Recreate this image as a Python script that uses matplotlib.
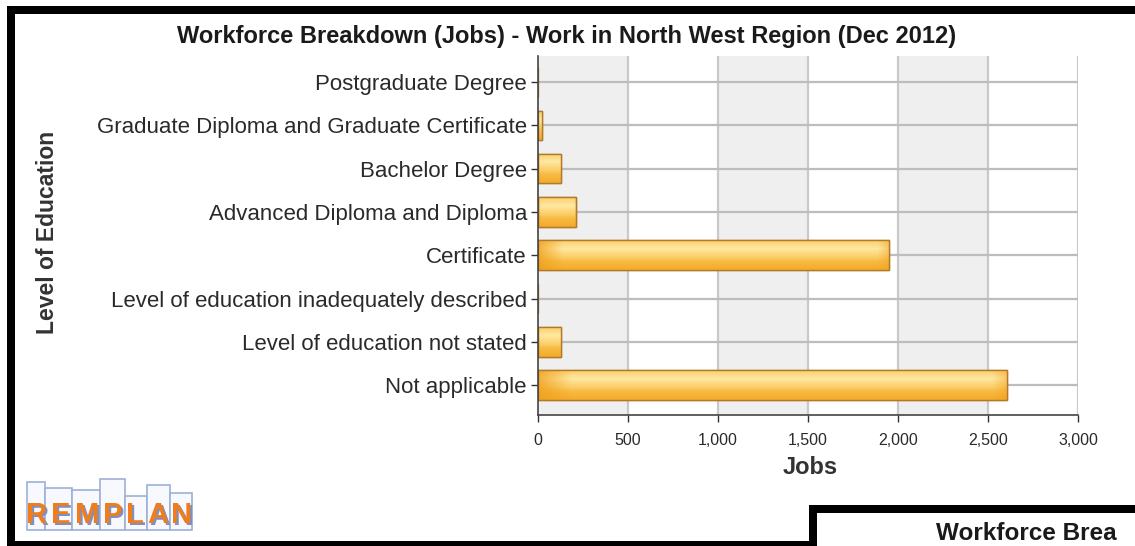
import numpy as np
import matplotlib
matplotlib.use("Agg")
import matplotlib.pyplot as plt
from matplotlib.patches import Rectangle

categories = [
    "Not applicable",
    "Level of education not stated",
    "Level of education inadequately described",
    "Certificate",
    "Advanced Diploma and Diploma",
    "Bachelor Degree",
    "Graduate Diploma and Graduate Certificate",
    "Postgraduate Degree",
]
jobs = [2605, 130, 0, 1950, 210, 130, 20, 0]
x_ticks = [0, 500, 1000, 1500, 2000, 2500, 3000]
x_tick_labels = ["0", "500", "1,000", "1,500", "2,000", "2,500", "3,000"]

title = "Workforce Breakdown (Jobs) - Work in North West Region (Dec 2012)"
font = ["Liberation Sans", "DejaVu Sans"]
plt.rcParams["font.family"] = font

W, H = 1135, 546
fig = plt.figure(figsize=(W / 100, H / 100), dpi=100)
fig.patch.set_facecolor("white")

def fx(px):
    return px / W

def fy(py):
    return 1 - py / H

ax = fig.add_axes([fx(538), fy(415), fx(1078) - fx(538), fy(56) - fy(415)])
ax.set_xlim(0, 3000)
ax.set_ylim(-0.69, 7.6)

# alternating bands
for i, x0 in enumerate(x_ticks[:-1]):
    if i % 2 == 0:
        ax.axvspan(x0, x0 + 500, color="#EFEFEF", zorder=0, lw=0)
for x in x_ticks[1:]:
    ax.axvline(x, color="#C9C9C9", lw=1.6, zorder=1)
ypos = np.arange(len(categories))
for y in ypos:
    ax.axhline(y, color="#BDBDBD", lw=1.6, zorder=1)

# gradient for bars
ny, nx = 40, 200
v = np.linspace(0, 1, ny)[:, None]  # 0 bottom, 1 top
h = np.linspace(0, 1, nx)[None, :]
c_dark = np.array([0.94, 0.62, 0.10])
c_mid = np.array([0.98, 0.76, 0.30])
c_light = np.array([1.0, 0.91, 0.64])
vert = np.clip(1 - np.abs(v - 0.72) / 0.42, 0, 1)
img = c_mid[None, None, :] * (1 - vert[..., None]) + c_light[None, None, :] * vert[..., None]
bottom_dark = np.clip((0.4 - v) / 0.4, 0, 1)[..., None] * 0.65
img = img * (1 - bottom_dark) + c_dark[None, None, :] * bottom_dark
left_dark = np.clip((0.07 - h) / 0.07, 0, 1)[..., None] * 0.75 * np.ones((ny, 1, 1))
img = img * (1 - left_dark) + c_dark[None, None, :] * left_dark
right_dark = np.clip((h - 0.97) / 0.03, 0, 1)[..., None] * 0.4 * np.ones((ny, 1, 1))
img = img * (1 - right_dark) + c_dark[None, None, :] * right_dark

bh = 0.68
bars = ax.barh(ypos, jobs, height=bh, color="#F5BE4E", edgecolor="#B9822A", lw=1.0, zorder=3)
for b, val in zip(bars, jobs):
    if val <= 0:
        continue
    x0, y0 = b.get_x(), b.get_y()
    w, hh = b.get_width(), b.get_height()
    im = ax.imshow(img, extent=[x0, x0 + w, y0, y0 + hh], origin="lower",
                   aspect="auto", zorder=3.5, interpolation="bilinear")
    im.set_clip_path(b)
    ax.add_patch(Rectangle((x0, y0), w, hh, fill=False, edgecolor="#B07A28", lw=1.0, zorder=4))
ax.set_xlim(0, 3000)
ax.set_ylim(-0.69, 7.6)

ax.set_yticks(ypos)
ax.set_yticklabels(categories, fontsize=16, color="#2a2a2a")
ax.set_xticks(x_ticks)
ax.set_xticklabels(x_tick_labels, fontsize=11.5, color="#2a2a2a")
ax.tick_params(axis="both", length=5, width=1.0, color="#333333", pad=3)
ax.tick_params(axis="x", pad=8)
for s in ["top", "right"]:
    ax.spines[s].set_visible(False)
for s in ["left", "bottom"]:
    ax.spines[s].set_color("#444444")
    ax.spines[s].set_linewidth(1.2)
    ax.spines[s].set_zorder(5)

fig.text(fx(810), fy(468), "Jobs", fontsize=17, fontweight="bold", color="#333333",
         ha="center", va="center")
fig.text(fx(48), fy(232), "Level of Education", rotation=90, fontsize=16.5,
         fontweight="bold", color="#333333", ha="center", va="center")
fig.text(fx(567), fy(36), title, fontsize=17, fontweight="bold", color="#1a1a1a",
         ha="center", va="center")

# frames
def black_rect(x0, y0, x1, y1):
    fig.patches.append(Rectangle((fx(x0), fy(y1)), fx(x1) - fx(x0), fy(y0) - fy(y1),
                                 transform=fig.transFigure, color="black", lw=0, zorder=10))

black_rect(7, 6, W, 14)       # top
black_rect(7, 6, 15, H)       # left
black_rect(7, 541, 817, H)    # bottom of first frame
black_rect(809, 505, 817, H)  # left of second frame
black_rect(809, 505, W, 513)  # top of second frame
fig.patches.append(Rectangle((fx(817), 0), 1 - fx(817), fy(513), transform=fig.transFigure,
                             color="white", lw=0, zorder=9))
fig.text(fx(936), fy(533), "Workforce Brea", fontsize=17.5, fontweight="bold",
         color="#1a1a1a", ha="left", va="center", zorder=11)

# REMPLAN logo
bar_specs = [(27, 482, 18), (45, 488, 27), (72, 490, 28), (100, 479, 25), (125, 496, 22),
             (147, 485, 23), (170, 493, 22)]
for x0, top, w in bar_specs:
    fig.patches.append(Rectangle((fx(x0), fy(530)), fx(w), fy(top) - fy(530),
                                 transform=fig.transFigure, facecolor="#F7F9FF",
                                 edgecolor="#9DB0D8", lw=1.2, zorder=10))
letters = "REMPLAN"
lx = [37, 61, 87, 113, 135, 158, 182]
lfam = ["Liberation Sans Narrow", "Liberation Sans", "DejaVu Sans"]
for ch, x in zip(letters, lx):
    fig.text(fx(x) + 0.0015, fy(515) - 0.004, ch, fontsize=21, fontweight="bold",
             color="#7F8FC0", ha="center", va="center", zorder=11, family=lfam)
    fig.text(fx(x), fy(515), ch, fontsize=21, fontweight="bold",
             color="#F07D1A", ha="center", va="center", zorder=12, family=lfam)

fig.savefig("out.png", dpi=100, facecolor="white")
